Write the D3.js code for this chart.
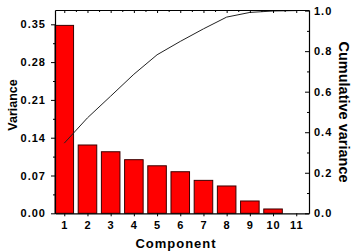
<!DOCTYPE html>
<html>
<head>
<meta charset="utf-8">
<script src="https://cdn.jsdelivr.net/npm/d3@7"></script>
<style>
body{margin:0;background:#fff;}
text{font-family:"Liberation Sans",Arial,sans-serif;font-weight:bold;fill:#000;}
.tick text{font-size:11px;letter-spacing:1px;}
.domain{stroke:#000;stroke-width:1.2;}
.tick line{stroke:#000;}
</style>
</head>
<body>
<script>
var components = [1,2,3,4,5,6,7,8,9,10,11];
var variance = [0.348,0.1265,0.114,0.0993,0.088,0.077,0.061,0.0506,0.0228,0.008,0];
var cumulative = [0.346,0.471,0.578,0.686,0.782,0.848,0.910,0.968,0.991,0.998,1.0];
var leftTicks = [0,0.07,0.14,0.21,0.28,0.35];
var rightTicks = [0,0.2,0.4,0.6,0.8,1.0];

var width=353,height=252;
var pLeft=55,pRight=309,pTop=10,pBottom=213.3;

var svg = d3.select("body")
	.append("svg")
	.attr("width", width)
	.attr("height", height);

var x = d3.scaleLinear().domain([0.6,11.55]).range([pLeft,pRight]);
var y = d3.scaleLinear().domain([0,0.3765]).range([pBottom,pTop]);
var y2 = d3.scaleLinear().domain([0,1.003]).range([pBottom,pTop]);

// bars
var bw = 0.8;
svg.append("g").selectAll("rect")
	.data(components.filter(function(d,i){return variance[i]>0;}))
	.enter().append("rect")
	.attr("x", function(d){return x(d-bw/2);})
	.attr("width", function(d){return x(d+bw/2)-x(d-bw/2);})
	.attr("y", function(d,i){return y(variance[i]);})
	.attr("height", function(d,i){return pBottom-y(variance[i]);})
	.attr("fill", "#ff0000")
	.attr("stroke", "#3a0000")
	.attr("stroke-width", 1);

// cumulative line
svg.append("path")
	.datum(components)
	.attr("fill", "none")
	.attr("stroke", "#222")
	.attr("stroke-width", 1)
	.attr("d", d3.line()
		.x(function(d){return x(d);})
		.y(function(d,i){return y2(cumulative[i]);}));

// left axis
svg.append("g").attr("transform","translate("+pLeft+",0)")
	.call(d3.axisLeft(y).tickValues(leftTicks).tickFormat(d3.format(".2f")).tickSize(4).tickPadding(5).tickSizeOuter(0));
svg.append("g").attr("transform","translate("+pLeft+",0)")
	.call(d3.axisLeft(y).tickValues([0.035,0.105,0.175,0.245,0.315]).tickFormat("").tickSize(2).tickSizeOuter(0))
	.select(".domain").remove();

// right axis
svg.append("g").attr("transform","translate("+pRight+",0)")
	.call(d3.axisRight(y2).tickValues(rightTicks).tickFormat(d3.format(".1f")).tickSize(-4).tickPadding(5).tickSizeOuter(0));
svg.append("g").attr("transform","translate("+pRight+",0)")
	.call(d3.axisRight(y2).tickValues([0.1,0.3,0.5,0.7,0.9]).tickFormat("").tickSize(-2).tickSizeOuter(0))
	.select(".domain").remove();

// bottom axis
svg.append("g").attr("transform","translate(0,"+pBottom+")")
	.call(d3.axisBottom(x).tickValues(components).tickFormat(d3.format("d")).tickSize(3).tickPadding(5).tickSizeOuter(0));

// top axis
svg.append("g").attr("transform","translate(0,"+pTop+")")
	.call(d3.axisTop(x).tickValues(components).tickFormat("").tickSize(-3).tickSizeOuter(0));
svg.append("g").attr("transform","translate(0,"+pTop+")")
	.call(d3.axisTop(x).tickValues(components.map(function(d){return d+0.5;}).slice(0,10)).tickFormat("").tickSize(-2).tickSizeOuter(0))
	.select(".domain").remove();

svg.selectAll(".tick text").style("font-size","11px");

// titles
svg.append("text")
	.attr("transform","translate(16.5,105) rotate(-90)")
	.attr("text-anchor","middle")
	.style("font-size","12.5px")
	.text("Variance");

svg.append("text")
	.attr("transform","translate(339,112) rotate(90)")
	.attr("text-anchor","middle")
	.style("font-size","14.5px")
	.text("Cumulative variance");

svg.append("text")
	.attr("x", 176).attr("y", 247.5)
	.attr("text-anchor","middle")
	.style("font-size","13px").style("letter-spacing","1px")
	.text("Component");
</script>
</body>
</html>
